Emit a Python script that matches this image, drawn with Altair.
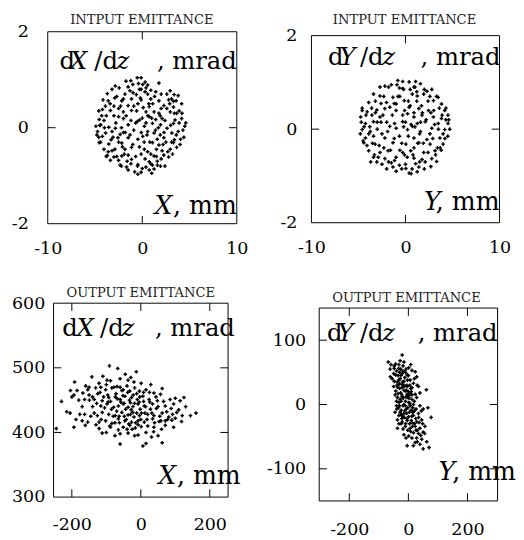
import altair as alt
import pandas as pd

# ---------------- data ----------------
# INPUT emittance, X plane  (X mm, dX/dz mrad)
in_x_pts = [
    (-0.53, 1.04), (-0.12, 1.04), (-1.21, 0.98), (-1.72, 0.97), (1.76, 0.93), (0.05, 0.90), (0.57, 0.89),
    (0.4, 0.83), (-2.85, 0.87), (-2.44, 0.83), (-3.2, 0.80), (-0.12, 0.80), (-1.3, 0.77), (-0.97, 0.73),
    (1.42, 0.75), (2.96, 0.77), (2.6, 0.70), (3.37, 0.69), (-3.7, 0.71), (-1.83, 0.70), (-0.63, 0.69),
    (0.57, 0.70), (3.8, 0.67), (-4.15, 0.58), (-3.6, 0.56), (-2.92, 0.62), (-2.17, 0.56), (-1.14, 0.6),
    (-0.12, 0.58), (0.9, 0.6), (1.76, 0.56), (2.79, 0.58), (3.58, 0.56), (4.16, 0.5), (-1.5, 0.46),
    (-0.46, 0.5), (0.74, 0.44), (2.28, 0.46), (3.3, 0.43), (-4.22, 0.38), (-3.37, 0.36), (-2.5, 0.4),
    (-2.0, 0.33), (-1.14, 0.36), (0.4, 0.33), (1.25, 0.33), (1.76, 0.30), (2.96, 0.33), (3.64, 0.30),
    (-4.56, 0.17), (-4.05, 0.15), (-2.5, 0.23), (-1.99, 0.19), (-0.53, 0.13), (-0.29, 0.16), (0.74, 0.23),
    (1.42, 0.17), (2.1, 0.19), (3.47, 0.16), (4.16, 0.19), (-4.9, 0.03), (-4.39, 0.06), (-3.54, 0.01),
    (-2.85, -0.01), (-1.49, 0.06), (0.22, 0.03), (1.08, 0.09), (1.93, 0.06), (2.62, -0.01), (3.3, 0.09),
    (4.5, 0.03), (-4.73, -0.08), (-3.88, -0.11), (-3.2, -0.08), (-2.34, -0.14), (0.57, -0.08), (1.25, -0.11),
    (3.13, -0.11), (3.8, -0.08), (-4.22, -0.18), (-2.58, -0.21), (-1.49, -0.21), (-0.46, -0.24), (0.05, -0.18),
    (1.59, -0.24), (2.28, -0.21), (4.05, -0.24), (-4.56, -0.31), (-3.54, -0.34), (-2.17, -0.32), (1.08, -0.31),
    (1.76, -0.36), (3.3, -0.31), (-4.05, -0.45), (-3.2, -0.48), (-1.83, -0.45), (-1.14, -0.41), (0.22, -0.45),
    (0.57, -0.5), (2.1, -0.48), (2.96, -0.45), (3.64, -0.41), (-3.71, -0.58), (-3.0, -0.61), (-2.17, -0.59),
    (-1.49, -0.57), (-0.12, -0.55), (1.25, -0.59), (2.28, -0.57), (2.79, -0.61), (-3.37, -0.68), (-2.51, -0.68),
    (-1.14, -0.66), (0.74, -0.71), (1.59, -0.7), (-2.34, -0.78), (-1.66, -0.82), (-0.46, -0.77), (0.39, -0.82),
    (1.08, -0.78), (1.93, -0.8), (-1.49, -0.88), (-0.8, -0.92), (-0.12, -0.93), (0.74, -0.88), (-0.46, -0.97),
    (1.25, -0.86), (-3.9, 0.45), (-3.0, 0.25), (-2.8, 0.1), (-2.2, 0.0), (-1.8, -0.1), (-1.2, 0.15),
    (-0.9, -0.05), (-0.6, 0.35), (-0.2, 0.62), (0.1, 0.42), (0.4, 0.1), (0.8, -0.3), (1.1, 0.5), (1.4, -0.05),
    (1.9, 0.25), (2.3, -0.1), (2.6, 0.4), (3.0, 0.05), (3.4, -0.25), (3.9, 0.35), (4.3, -0.05), (-4.6, -0.2),
    (-4.3, 0.25), (-3.3, -0.25), (-2.9, -0.45), (-2.5, -0.3), (-1.9, -0.55), (-1.0, -0.35), (-0.7, -0.6),
    (-0.3, -0.4), (0.3, -0.65), (0.9, -0.55), (1.5, -0.45), (2.0, -0.65), (2.5, -0.3), (3.2, -0.55),
    (-3.6, -0.5), (-2.7, 0.65), (-1.5, 0.85), (-0.4, 0.92), (0.9, 0.78), (2.0, 0.7), (3.1, 0.6), (-4.5, 0.05),
    (4.0, -0.35), (-1.2, -0.75), (0.0, -0.85), (1.6, -0.78), (-2.0, 0.6), (0.6, 0.25),
    (-4.8, -0.15), (-4.4, -0.3), (-4.0, 0.0), (-3.8, 0.25), (-3.4, 0.5), (-3.1, -0.2), (-2.7, -0.6),
    (-2.3, 0.45), (-2.1, -0.4), (-1.7, 0.25), (-1.6, -0.7), (-1.3, -0.15), (-0.9, 0.45), (-0.7, 0.1),
    (-0.5, -0.8), (-0.3, 0.8), (0.0, 0.2), (0.2, -0.3), (0.3, 0.75), (0.5, -0.15), (0.7, 0.5), (0.9, -0.75),
    (1.0, 0.2), (1.3, 0.65), (1.5, -0.6), (1.7, 0.0), (2.0, 0.4), (2.2, -0.35), (2.4, 0.15), (2.7, -0.5),
    (2.9, 0.5), (3.1, -0.3), (3.4, 0.3), (3.6, -0.15), (3.9, 0.1), (4.2, 0.3), (4.4, -0.2), (-3.8, -0.6),
    (-2.2, -0.8), (1.0, -0.95), (0.3, 0.95), (-1.0, 0.9), (2.4, -0.8), (-4.6, 0.35), (4.6, 0.1), (-0.1, -0.1),
    (-2.0, -0.1), (1.9, -0.15), (-3.0, 0.45), (3.3, 0.55),
]

# INPUT emittance, Y plane  (Y mm, dY/dz mrad)
in_y_pts = [
    (-0.82, 1.04), (-0.3, 1.02), (0.39, 1.01), (1.08, 1.02), (1.59, 0.97), (-2.19, 0.92), (-2.71, 0.9),
    (-0.64, 0.88), (-0.3, 0.87), (0.9, 0.9), (2.8, 0.85), (2.28, 0.81), (-3.4, 0.75), (-2.71, 0.71),
    (-1.33, 0.68), (0.73, 0.75), (1.25, 0.71), (1.94, 0.75), (3.48, 0.68), (2.97, 0.61), (-3.91, 0.57),
    (-2.02, 0.57), (-0.99, 0.54), (-0.13, 0.61), (3.83, 0.54), (-4.6, 0.4), (-4.08, 0.37), (-3.05, 0.41),
    (-2.19, 0.44), (-1.67, 0.47), (0.39, 0.47), (1.42, 0.44), (2.45, 0.4), (4.17, 0.4), (4.52, 0.3),
    (-4.77, 0.26), (-3.57, 0.3), (-2.71, 0.26), (-0.3, 0.3), (0.22, 0.33), (0.9, 0.26), (1.76, 0.3),
    (2.97, 0.26), (3.83, 0.23), (-4.26, 0.12), (-3.4, 0.16), (-1.16, 0.12), (-0.3, 0.16), (1.25, 0.12),
    (2.11, 0.16), (3.48, 0.12), (4.52, 0.12), (-4.6, -0.01), (-3.74, -0.05), (-1.67, 0.06), (-0.99, 0.02),
    (0.22, -0.01), (0.73, 0.06), (1.59, -0.05), (2.8, 0.02), (4.17, -0.01), (-4.26, -0.19), (-3.4, -0.15),
    (-2.19, -0.19), (-0.64, -0.15), (0.9, -0.19), (2.28, -0.22), (3.66, -0.19), (-4.43, -0.29), (-3.23, -0.32),
    (-1.33, -0.29), (0.04, -0.32), (1.42, -0.29), (2.62, -0.32), (4.0, -0.32), (-3.91, -0.46), (-2.71, -0.5),
    (-1.85, -0.46), (-0.3, -0.5), (0.56, -0.46), (1.94, -0.5), (3.14, -0.46), (-3.4, -0.6), (-2.19, -0.63),
    (-1.16, -0.67), (0.9, -0.62), (1.76, -0.65), (2.8, -0.63), (-3.05, -0.7), (-1.5, -0.72), (-0.64, -0.77),
    (1.08, -0.74), (3.31, -0.69), (-1.33, -0.81), (0.04, -0.84), (1.42, -0.81), (-0.99, -0.9), (1.25, -0.91),
    (0.39, -0.94), (-4.4, 0.05), (-3.9, -0.1), (-3.6, 0.45), (-3.0, 0.0), (-2.8, -0.35), (-2.4, 0.3),
    (-2.3, 0.7), (-1.9, -0.05), (-1.6, -0.45), (-1.2, 0.55), (-1.0, -0.6), (-0.6, 0.7), (-0.4, -0.3),
    (-0.1, 0.4), (0.2, -0.6), (0.5, 0.85), (0.6, 0.1), (0.9, -0.4), (1.2, 0.6), (1.5, -0.1), (1.8, 0.35),
    (2.1, -0.7), (2.4, 0.6), (2.6, -0.1), (3.0, 0.4), (3.2, -0.55), (3.5, 0.0), (3.9, 0.3), (4.2, -0.2),
    (4.6, 0.2), (-4.7, 0.15), (-4.1, -0.35), (-3.3, -0.55), (-2.5, -0.75), (-1.8, 0.9), (-0.9, 0.95),
    (0.0, -0.75), (1.0, 0.9), (2.0, 0.85), (3.3, 0.7), (-2.0, -0.85), (0.7, -0.85), (2.7, -0.8), (-3.2, 0.6),
    (4.3, 0.45), (-0.2, 0.05), (1.3, -0.3), (-2.6, 0.15), (0.3, 0.6), (3.7, -0.4),
    (-4.8, -0.1), (-4.5, -0.25), (-4.2, 0.3), (-3.8, 0.05), (-3.5, -0.3), (-3.2, 0.35), (-2.9, -0.6),
    (-2.6, 0.55), (-2.3, -0.4), (-2.0, 0.15), (-1.8, -0.7), (-1.4, 0.3), (-1.2, -0.2), (-0.8, 0.7),
    (-0.6, -0.45), (-0.2, 0.85), (0.0, 0.15), (0.3, -0.15), (0.5, 0.5), (0.8, -0.55), (1.0, 0.05), (1.2, 0.8),
    (1.5, -0.7), (1.7, 0.5), (1.9, -0.3), (2.2, 0.2), (2.4, -0.5), (2.6, 0.7), (2.9, -0.2), (3.1, 0.1),
    (3.4, -0.4), (3.6, 0.45), (4.0, -0.1), (4.3, 0.2), (4.5, -0.15), (-3.7, -0.7), (-1.5, 0.95), (0.6, -0.95),
    (-0.4, -0.85), (2.0, -0.85), (-4.6, 0.45), (4.7, 0.0), (-1.0, 0.4), (0.9, 0.35), (-2.5, -0.1), (2.7, 0.35),
    (-0.1, -0.55), (1.6, 0.15), (-3.0, 0.15), (3.8, -0.45),
]

# OUTPUT emittance, X plane
out_x_pts = [
    (-91, 503), (-67, 499), (-13, 494), (-142, 486), (-192, 478), (-121, 476), (-98, 481), (-88, 480),
    (-60, 483), (-37, 481), (-29, 485), (1, 476), (29, 474), (62, 468), (-204, 465), (-194, 458),
    (-168, 461), (-154, 466), (-131, 469), (-116, 470), (-102, 466), (-84, 469), (-69, 471), (-51, 466),
    (-32, 464), (-18, 469), (-4, 464), (15, 466), (38, 461), (57, 459), (-163, 451), (-149, 450),
    (-135, 451), (-112, 449), (-93, 454), (-74, 455), (-60, 451), (-46, 456), (-27, 454), (-10, 451),
    (6, 456), (24, 451), (48, 449), (85, 451), (100, 453), (114, 449), (125, 454), (-116, 441),
    (-98, 444), (-79, 439), (-65, 441), (-51, 444), (-37, 439), (-23, 440), (-8, 444), (10, 441),
    (34, 444), (71, 441), (95, 444), (-177, 428), (-163, 428), (-126, 426), (-112, 431), (-93, 428),
    (-74, 426), (-55, 431), (-37, 427), (-23, 431), (-4, 426), (20, 428), (38, 426), (62, 430), (81, 424),
    (104, 431), (144, 426), (-170, 418), (-154, 416), (-121, 416), (-102, 418), (-84, 414), (-65, 421),
    (-46, 418), (-27, 416), (-8, 418), (10, 416), (34, 421), (53, 417), (71, 418), (90, 419), (118, 417),
    (-245, 406), (-194, 408), (-161, 411), (-121, 406), (-88, 408), (-65, 404), (-51, 408), (-32, 411),
    (-16, 407), (1, 409), (38, 408), (71, 411), (95, 408), (-112, 399), (-60, 398), (-37, 399), (-8, 396),
    (31, 393), (-60, 382), (6, 379), (15, 383), (62, 384), (37, 401), (-125, 460), (-108, 455), (-95, 447),
    (-85, 436), (-72, 460), (-58, 447), (-44, 436), (-30, 446), (-20, 424), (-12, 460), (-2, 436), (8, 448),
    (18, 420), (28, 436), (-140, 440), (-150, 458), (-100, 474), (-80, 425), (-62, 415), (-48, 425),
    (-35, 413), (-25, 405), (-15, 415), (0, 420), (12, 430), (45, 437), (55, 425), (75, 432), (-170, 440),
    (-185, 465), (-60, 470), (-40, 472), (-20, 478), (-115, 420), (-135, 430), (-90, 410), (-70, 433),
    (-52, 457), (-5, 447), (25, 462), (40, 415), (88, 437), (-205, 430), (-110, 487), (-45, 490),
    (100, 422), (130, 440), (-160, 472), (60, 405), (-30, 428),
    (-150, 470), (-140, 455), (-128, 445), (-118, 462), (-105, 438), (-96, 458), (-88, 448), (-78, 470),
    (-75, 415), (-68, 452), (-63, 425), (-55, 465), (-48, 445), (-42, 420), (-38, 462), (-33, 450),
    (-28, 435), (-22, 458), (-18, 445), (-12, 430), (-8, 412), (-3, 455), (2, 430), (8, 462), (14, 440),
    (20, 410), (26, 447), (32, 430), (44, 455), (50, 440), (58, 418), (66, 448), (78, 420), (92, 428),
    (110, 435), (120, 426), (-180, 450), (-200, 455), (-215, 432), (-188, 420), (-145, 425), (-130, 412),
    (-100, 400), (-75, 395), (-40, 405), (-18, 395), (15, 400), (50, 395), (-230, 448), (160, 430),
]

# OUTPUT emittance, Y plane
out_y_pts = [
    (-21, 77), (-68, 66), (-59, 62), (-43, 63), (-32, 62), (-15, 66), (-48, 56), (-26, 55), (1, 57),
    (12, 53), (-61, 43), (-43, 46), (-21, 48), (-4, 46), (23, 51), (28, 43), (-48, 36), (-32, 38),
    (-15, 36), (6, 38), (17, 33), (-50, 28), (-37, 27), (-21, 31), (-4, 28), (12, 26), (34, 28), (61, 23),
    (-43, 21), (-26, 18), (-10, 21), (6, 18), (23, 16), (39, 18), (-37, 11), (-21, 12), (-4, 11), (12, 8),
    (28, 11), (-32, 3), (-15, 0), (1, 3), (17, 0), (39, -2), (-39, -7), (-24, -9), (-7, -7), (9, -9),
    (26, -7), (50, -7), (66, -5), (-32, -17), (-15, -14), (1, -19), (17, -17), (34, -14), (77, -20),
    (-37, -24), (-21, -27), (-4, -25), (12, -28), (28, -27), (45, -24), (-10, -34), (6, -37), (23, -34),
    (39, -37), (56, -34), (-37, -37), (17, -44), (34, -45), (50, -43), (-15, -47), (1, -49), (28, -52),
    (45, -54), (23, -59), (39, -62), (-4, -64), (17, -64), (70, -67), (50, -69), (-35, 45), (-28, 40),
    (-20, 35), (-12, 42), (-5, 30), (-30, 25), (-22, 15), (-15, 22), (-8, 12), (0, 20), (-25, 5), (-18, -2),
    (-10, 5), (-2, -5), (5, 2), (-28, -12), (-20, -18), (-12, -10), (-5, -22), (3, -12), (10, -25),
    (-38, 35), (-45, 15), (-40, -2), (-8, 55), (0, 45), (8, 25), (15, -5), (20, -30), (30, -40), (-30, 50),
    (-18, 52), (-10, -30), (-25, -30), (35, -20), (42, -48), (8, -42), (-40, 5), (-33, -5), (-15, 30),
    (2, 10), (-22, -22), (12, 15), (20, 5), (-50, 48),
    (-48, 60), (-40, 52), (-33, 56), (-25, 45), (-18, 60), (-10, 50), (-3, 38), (5, 30), (-38, 30),
    (-30, 32), (-22, 26), (-14, 28), (-6, 22), (2, 14), (10, 20), (-35, 17), (-28, 8), (-18, 10), (-10, -2),
    (-4, 16), (6, -2), (14, -12), (-30, -2), (-24, -16), (-14, -20), (-6, -14), (4, -30), (12, -18),
    (20, -10), (25, -22), (-32, -30), (-18, -38), (-2, -40), (14, -34), (26, -40), (36, -28), (30, -58),
    (12, -52), (-8, -52), (48, -30), (55, -45), (62, -58), (-55, 40), (-62, 55), (8, 62), (-28, 68),
    (20, 40), (30, 30), (-45, -12), (44, -10),
]

in_dom_x = [-10, 10]
in_dom_y = [-2, 2]
out_x_dom_x = [-253, 253]
out_x_dom_y = [300, 600]
out_y_dom_x = [-302, 302]
out_y_dom_y = [-150, 150]

in_xticks = [-10, 0, 10]
in_yticks = [-2, 0, 2]
out_xticks = [-200, 0, 200]
out_x_yticks = [300, 400, 500, 600]
out_y_yticks = [-100, 0, 100]

titles = ["INTPUT EMITTANCE", "INTPUT EMITTANCE", "OUTPUT EMITTANCE", "OUTPUT EMITTANCE"]

FONT = "DejaVu Serif"
CW, CH = 195, 204   # cell (plot area) size shared by all four panels


def text_layer(s, px, py, size, align="left", italic=False, color="black"):
    d = pd.DataFrame({"t": [s]})
    kw = dict(font=FONT, fontSize=size, align=align, baseline="alphabetic", color=color)
    if italic:
        kw["fontStyle"] = "italic"
    return alt.Chart(d).mark_text(**kw).encode(x=alt.value(px), y=alt.value(py), text="t:N")


def panel(pts, xdom, ydom, xticks, yticks, inner_x, inner_y, frame, title, title_pos,
          ylab_pad, xlab_pad, var, top_pos, top_base, top_right, bot_pos, bot_base, bot_right):
    fx0, fy0, fx1, fy1 = frame  # frame box inside the cell, in pixels
    df = pd.DataFrame(pts, columns=["x", "y"])
    xs = alt.Scale(domain=xdom, range=[fx0, fx1], nice=False, zero=False)
    ys = alt.Scale(domain=ydom, range=[fy1, fy0], nice=False, zero=False)
    common = dict(ticks=False, domain=False, grid=False, labelFlush=False, labelFont=FONT,
                  labelFontSize=18, labelColor="black", title=None, labelOverlap=False,
                  labelExpr="'' + datum.value")
    xa = alt.Axis(values=xticks, labelPadding=xlab_pad, **common)
    ya = alt.Axis(values=yticks, labelPadding=ylab_pad, labelAlign="right", **common)

    def X(f="x"):
        return alt.X(f"{f}:Q", scale=xs, axis=xa)

    def Y(f="y"):
        return alt.Y(f"{f}:Q", scale=ys, axis=ya)

    L = 8
    box = pd.DataFrame({"x": [xdom[0]], "x2": [xdom[1]], "y": [ydom[0]], "y2": [ydom[1]]})
    xt = pd.DataFrame({"x": inner_x})
    yt = pd.DataFrame({"y": inner_y})
    layers = [
        alt.Chart(box).mark_rect(fillOpacity=0, stroke="black", strokeWidth=1)
        .encode(x=X(), x2="x2:Q", y=Y(), y2="y2:Q"),
        alt.Chart(df).mark_point(shape="cross", filled=True, size=14, color="black", opacity=1)
        .encode(x=X(), y=Y()),
        alt.Chart(xt).mark_rule(color="black").encode(x=X(), y=alt.value(fy0), y2=alt.value(fy0 + L)),
        alt.Chart(xt).mark_rule(color="black").encode(x=X(), y=alt.value(fy1), y2=alt.value(fy1 - L)),
        alt.Chart(yt).mark_rule(color="black").encode(y=Y(), x=alt.value(fx0), x2=alt.value(fx0 + L)),
        alt.Chart(yt).mark_rule(color="black").encode(y=Y(), x=alt.value(fx1), x2=alt.value(fx1 - L)),
    ]
    d0, v0, s0, z0 = top_pos
    layers += [
        text_layer(title, title_pos[0], title_pos[1], 13.5, align="center", color="#222"),
        text_layer("d", d0, top_base, 25),
        text_layer(var, v0, top_base, 25, italic=True),
        text_layer("/d", s0, top_base, 25),
        text_layer("z", z0, top_base, 25, italic=True),
        text_layer(", mrad", top_right, top_base, 25, align="right"),
        text_layer(var, bot_pos, bot_base, 26, italic=True),
        text_layer(", mm", bot_right, bot_base, 26, align="right"),
    ]
    return alt.layer(*layers).properties(width=CW, height=CH)


p1 = panel(in_x_pts, in_dom_x, in_dom_y, in_xticks, in_yticks, [0], [0], (0, 0, 195, 198),
           titles[0], (97, -8), 20, 11, "X", (12, 23, 48, 71), 38, 195, 110, 188, 195)
p2 = panel(in_y_pts, in_dom_x, in_dom_y, in_xticks, in_yticks, [0], [0], (0, 4, 194, 197),
           titles[1], (96, -8), 15, 10, "Y", (17, 29, 50, 73), 34, 195, 116, 184, 194)
p3 = panel(out_x_pts, out_x_dom_x, out_x_dom_y, out_xticks, out_x_yticks, [-200, 0, 200], [400, 500],
           (6, 0, 186, 200), titles[2], (96, -6), 3, 15, "X", (15, 30, 54, 76), 34, 193, 114, 186, 199)
p4 = panel(out_y_pts, out_y_dom_x, out_y_dom_y, out_xticks, out_y_yticks, [-200, 0, 200], [-100, 0, 100],
           (8, 5, 192, 204), titles[3], (98, -1), 6, 21, "Y", (16, 27, 50, 73), 39, 192, 131, 182, 211)

chart = (
    alt.concat(p1, p2, p3, p4, columns=2, bounds="flush", align="all",
               spacing=alt.RowColnumber(row=76, column=77))
    .properties(padding={"left": 3, "top": -3, "right": 0, "bottom": 0}, background="white")
    .configure_view(strokeOpacity=0)
)

chart.save("out.html", embed_options={"renderer": "svg", "actions": False})
